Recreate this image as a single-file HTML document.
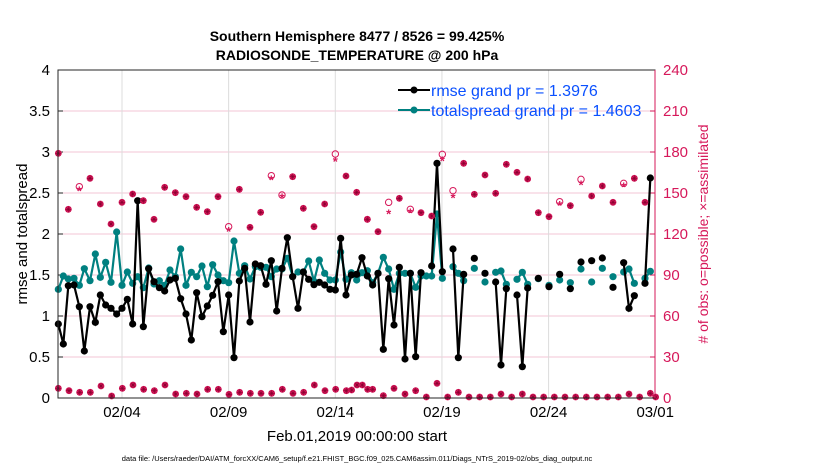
<!DOCTYPE html>
<html><head><meta charset="utf-8"><style>
body{margin:0;background:#fff;}
svg{font-family:"Liberation Sans",Arial,sans-serif;}
</style></head><body>
<svg id="s" width="830" height="470" xmlns="http://www.w3.org/2000/svg">
<rect width="830" height="470" fill="#fff"/>
<g id="grid"></g>
<g id="data"></g>
<rect x="58" y="70" width="597" height="328" fill="none" stroke="#262626" stroke-width="1"/>
<line x1="655" y1="70" x2="655" y2="398" stroke="#d6185a" stroke-width="1"/>
<text x="357" y="41" text-anchor="middle" font-size="14" font-weight="bold">Southern Hemisphere 8477 / 8526 = 99.425%</text>
<text x="357" y="60" text-anchor="middle" font-size="14" font-weight="bold">RADIOSONDE_TEMPERATURE @ 200 hPa</text>
<text transform="translate(27,234) rotate(-90)" text-anchor="middle" font-size="15">rmse and totalspread</text>
<text transform="translate(708,234) rotate(-90)" text-anchor="middle" font-size="14" fill="#d6185a"># of obs: o=possible; ×=assimilated</text>
<text x="357" y="441" text-anchor="middle" font-size="15">Feb.01,2019 00:00:00 start</text>
<text x="357" y="461" text-anchor="middle" font-size="7.5">data file: /Users/raeder/DAI/ATM_forcXX/CAM6_setup/f.e21.FHIST_BGC.f09_025.CAM6assim.011/Diags_NTrS_2019-02/obs_diag_output.nc</text>
<g font-size="16" fill="#0a50ff">
<line x1="398" y1="90" x2="430" y2="90" stroke="#000" stroke-width="2"/><circle cx="414" cy="90" r="3.5" fill="#000"/>
<text x="431" y="96">rmse grand pr = 1.3976</text>
<line x1="398" y1="110" x2="430" y2="110" stroke="#008080" stroke-width="2"/><circle cx="414" cy="110" r="3.5" fill="#008080"/>
<text x="431" y="116">totalspread grand pr = 1.4603</text>
</g>
</svg>
<script>
const NS="http://www.w3.org/2000/svg";
const g=document.getElementById('grid'),d=document.getElementById('data');
function el(p,t,a,txt){const e=document.createElementNS(NS,t);for(const k in a)e.setAttribute(k,a[k]);if(txt!==undefined)e.textContent=txt;p.appendChild(e);return e;}
for(let i=0;i<=8;i++){const y=398-i*41;
 if(i>0&&i<8)el(g,'line',{x1:58,x2:655,y1:y,y2:y,stroke:'#f3c6d6','stroke-width':1});
 el(g,'text',{x:50,y:y+5,'text-anchor':'end','font-size':15},(i/2).toString());
 el(g,'text',{x:663,y:y+5,'font-size':15,fill:'#d6185a'},(i*30).toString());
 el(g,'line',{x1:58,x2:63,y1:y,y2:y,stroke:'#262626'});
 el(g,'line',{x1:650,x2:655,y1:y,y2:y,stroke:'#d6185a'});
}
const dates=['02/04','02/09','02/14','02/19','02/24','03/01'];
dates.forEach((t,i)=>{const x=58+21.33*(3+5*i);
 if(i<5)el(g,'line',{x1:x,x2:x,y1:70,y2:398,stroke:'#dcdcdc'});
 el(g,'text',{x:x,y:417,'text-anchor':'middle','font-size':15},t);});
function X1(zx){return 50+zx/3} function X2(zx){return 350+zx/3} function Y1(zy){return 60+zy/3}
const b1=[[25,792],[40,852],[55,677],[72,675],[88,740],[103,873],[120,740],[136,787],[151,705],[167,735],[183,745],[200,762],[216,745],[232,718],[248,792],[263,422],[280,800],[296,626],[312,665],[328,683],[344,693],[360,660],[376,655],[392,716],[408,762],[424,840],[440,698],[456,770],[472,738],[488,706],[504,665],[520,815],[536,705],[552,893],[568,663],[584,625],[600,786],[616,612],[632,617],[648,673],[664,602],[680,753],[696,625],[712,533],[728,650],[744,745],[760,636],[776,658],[792,674],[808,667],[824,675],[840,688],[856,690],[872,535],[888,705],[904,645],[920,643],[936,593],[952,648]];
const b2=[[68,675],[84,640],[100,868],[116,656],[132,795],[148,622],[165,897],[181,640],[197,890],[213,638],null,[245,618],[261,310],[277,635],null,[309,567],[325,893],[341,643],null,[373,595],null,[405,640],null,[437,666],[453,915],[469,686],null,[501,705],[517,920],[533,684],null,[565,655],null,[597,680],null,[629,643],null,[661,686],null,[693,606],null,[725,602],null,[757,594],null,[789,682],null,[821,608],[837,745],[853,707],null,[885,670],[901,354]];
const t1=[[25,688],[40,648],[55,657],[72,655],[88,676],[103,626],[120,662],[136,582],[151,652],[167,607],[183,667],[200,516],[216,676],[232,636],[248,670],[263,650],[280,683],[296,624],[312,672],[328,662],[344,676],[360,630],[376,650],[392,567],[408,676],[424,637],[440,650],[456,618],[472,680],[488,614],[504,645],[520,662],[536,668],[552,543],[568,640],[584,617],[600,657],[616,620],[632,622],[648,622],[664,650],[680,627],[696,627],[712,595],[728,650],[744,636],[760,636],[776,603],[792,664],[808,600],[824,640],[840,660],[856,660],[872,576],[888,658],[904,638],[920,660],[936,638],[952,632]];
const t2=[[68,668],[84,640],[100,592],[116,627],[132,688],[148,640],[165,640],[181,640],[197,682],[213,648],[229,648],[245,648],[261,462],[277,655],null,[309,620],[325,640],[341,662],null,[373,625],null,[405,666],null,[437,637],[453,633],[469,673],null,[501,658],[517,637],[533,673],null,[565,656],null,[597,676],null,[629,660],null,[661,668],null,[693,627],null,[725,666],null,[757,625],null,[789,650],null,[821,636],[837,627],[853,670],null,[885,655],[901,634]];
function series(a1,a2,col){
 const pts=a1.map(p=>[X1(p[0]),Y1(p[1])]);pts.push(null);a2.forEach(p=>pts.push(p?[X2(p[0]),Y1(p[1])]:null));
 let seg=[];const flush=()=>{if(seg.length>1)el(d,'polyline',{points:seg.map(p=>p.join(',')).join(' '),fill:'none',stroke:col,'stroke-width':2.2});seg=[];};
 pts.forEach((p,i)=>{if(!p){if(i===a1.length)return;flush();return;}seg.push(p);});flush();
 pts.forEach(p=>{if(p)el(d,'circle',{cx:p[0],cy:p[1],r:3.6,fill:col});});
}
series(t1,t2,'#008080');
series(b1,b2,'#000');
const pink='#d6185a';
function star(x,y){el(d,'text',{x:x,y:y+6,'text-anchor':'middle','font-size':13,fill:pink,'font-weight':'bold'},'*');}
function circ(x,y){el(d,'circle',{cx:x,cy:y,r:3.2,fill:'none',stroke:pink,'stroke-width':1});}
function both(x,y){el(d,'circle',{cx:x,cy:y,r:3.4,fill:pink});el(d,'path',{d:`M${x-3} ${y}h6M${x} ${y-3}v6M${x-2} ${y-2}l4 4M${x+2} ${y-2}l-4 4`,stroke:'#8a0030','stroke-width':0.6});}
const top1=[[25,280],[55,448],[88,380,388],[120,355],[151,432],[183,492],[216,427],[248,402],[280,422],[312,478],[344,382],[376,398],[408,410],[440,442],[472,455],[504,410],[536,500,510],[568,388],[600,502],[632,457],[664,347,355],[696,405,410],[728,350],[760,445],[792,500],[824,432],[856,282,300],[888,348],[920,397],[952,478]];
top1.forEach(p=>{const x=X1(p[0]);if(p[2]){circ(x,Y1(p[1]));star(x,Y1(p[2]));}else both(x,Y1(p[1]));});
const top2=[[52,478],[84,515],[116,427,457],[148,415],[181,448,455],[213,458],[245,468],[277,283,298],[309,392,410],[341,310],[373,403],[405,345],[437,400],[469,313],[501,337],[533,357],[565,458],[597,470],[629,425,432],[661,437],[693,358,370],[725,408],[757,378],[789,427],[821,370,376],[853,355],[885,427]];
top2.forEach(p=>{const x=X2(p[0]);if(p[2]){circ(x,Y1(p[1]));star(x,Y1(p[2]));}else both(x,Y1(p[1]));});
const bot1=[985,992,997,997,978,1008,985,975,988,992,975,1002,1000,1002,988,988,1003,997,1000,1000,1000,988,1000,997,975,992,988,992,975,988];
bot1.forEach((y,i)=>both(X1(25+32*i),Y1(y)));
const bot2=[[5,990],[37,975],[68,988],[100,1007],[132,985],[165,1002],[197,992],[229,1012],[261,970],[293,1012],[325,997],[357,1018],[389,1012],[421,1018],[453,1002],[485,1018],[517,1002],[549,1018],[581,1012],[613,1018],[645,1012],[677,1018],[709,1012],[741,1018],[773,1012],[805,1018],[837,1002],[869,1018],[901,1000],[917,1018]];
bot2.forEach(p=>both(X2(p[0]),Math.min(Y1(p[1]),397)));
</script>
</body></html>
